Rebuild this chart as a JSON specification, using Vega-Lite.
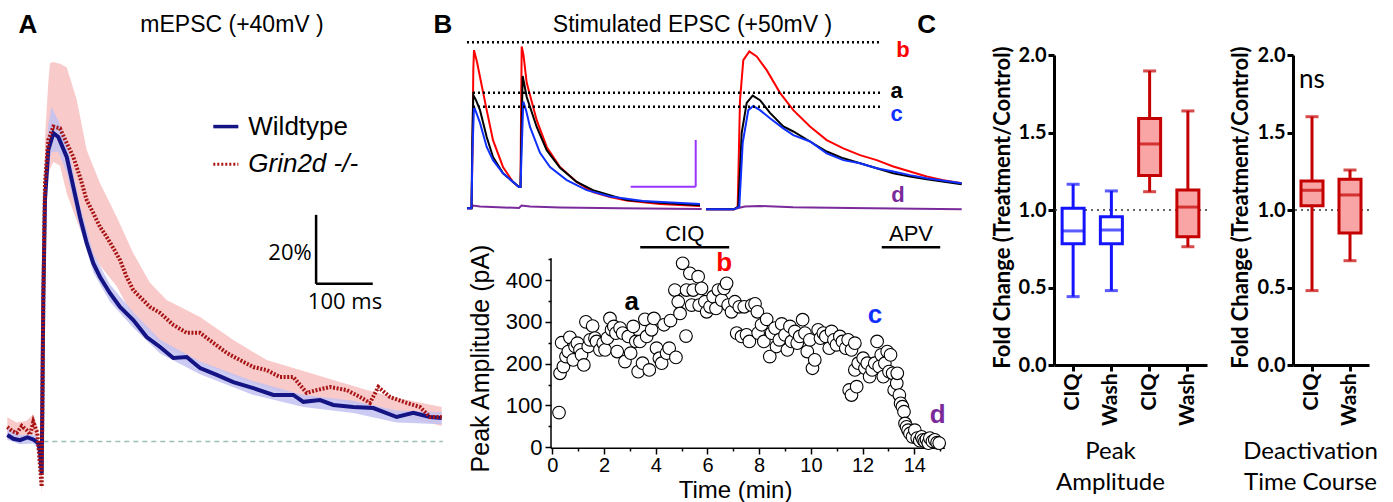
{
"$schema":"https://vega.github.io/schema/vega-lite/v6.json",
"autosize":"none",
"padding":{"left":5,"top":55,"right":1388,"bottom":447},
"background":"white",
"bounds":"flush",
"spacing":86,
"resolve":{"scale":{"color":"independent","fill":"independent","stroke":"independent"}},
"config":{"view":{"stroke":null}},
"datasets":{
"wt":[{"t":-55.9,"v":1.9},{"t":-45,"v":0.8},{"t":-33.2,"v":0.4},{"t":-20,"v":1.2},{"t":-9.5,"v":0.6},{"t":-0.5,"v":-0.5},{"t":2.5,"v":-3},{"t":5.5,"v":-9.1},{"t":8.4,"v":41.0},{"t":11.4,"v":70.0},{"t":17.3,"v":84.5},{"t":26.3,"v":89.4},{"t":35.2,"v":88.3},{"t":50.2,"v":82.5},{"t":62.0,"v":73.8},{"t":73.9,"v":65.1},{"t":85.9,"v":57.5},{"t":97.7,"v":51.7},{"t":109.7,"v":47.7},{"t":127.5,"v":43.0},{"t":145.4,"v":39.0},{"t":169.1,"v":35.2},{"t":193.1,"v":30.3},{"t":217.0,"v":27.4},{"t":240.6,"v":24.2},{"t":264.5,"v":24.5},{"t":288.3,"v":21.3},{"t":318.1,"v":19.3},{"t":347.7,"v":17.2},{"t":383.5,"v":15.5},{"t":419.2,"v":13.5},{"t":454.9,"v":13.5},{"t":472.8,"v":11.5},{"t":502.6,"v":12.0},{"t":526.3,"v":10.6},{"t":562.0,"v":10.0},{"t":597.8,"v":9.7},{"t":639.6,"v":7.1},{"t":669.2,"v":8.3},{"t":699.0,"v":7.1},{"t":719.9,"v":6.8}],
"ko":[{"t":-55.9,"v":4.2},{"t":-47,"v":3.0},{"t":-39.1,"v":2.5},{"t":-30,"v":4.5},{"t":-21.3,"v":3.3},{"t":-15,"v":2.0},{"t":-9.5,"v":5.7},{"t":-2.3,"v":2.5},{"t":1,"v":-4},{"t":5.5,"v":-13.1},{"t":8.4,"v":41.0},{"t":11.4,"v":74.9},{"t":17.3,"v":87.4},{"t":26.3,"v":91.3},{"t":38.2,"v":90.8},{"t":50.2,"v":86.5},{"t":62.0,"v":82.5},{"t":73.9,"v":76.7},{"t":85.9,"v":70.0},{"t":97.7,"v":66.2},{"t":109.7,"v":62.2},{"t":121.6,"v":59.3},{"t":133.4,"v":56.1},{"t":145.4,"v":52.6},{"t":157.3,"v":47.7},{"t":169.1,"v":43.9},{"t":181.1,"v":41.9},{"t":198.9,"v":39.0},{"t":216.8,"v":37.3},{"t":240.6,"v":33.8},{"t":264.5,"v":31.5},{"t":288.3,"v":31.5},{"t":312.0,"v":28.6},{"t":335.9,"v":25.7},{"t":359.7,"v":23.6},{"t":383.5,"v":21.6},{"t":407.4,"v":20.7},{"t":431.1,"v":18.7},{"t":454.9,"v":18.7},{"t":478.8,"v":14.1},{"t":496.7,"v":14.9},{"t":520.4,"v":15.8},{"t":550.3,"v":14.9},{"t":574.0,"v":12.9},{"t":591.8,"v":11.2},{"t":606.7,"v":15.8},{"t":627.6,"v":12.9},{"t":657.4,"v":11.2},{"t":681.2,"v":10.0},{"t":699.0,"v":7.1},{"t":719.9,"v":7.1}],
"wtband":[{"t":-55.9,"v":0.5,"v2":3.8},{"t":-33.2,"v":-0.8,"v2":1.8},{"t":-9.5,"v":-0.6,"v2":2.0},{"t":-0.5,"v":-2,"v2":1.2},{"t":5.5,"v":-11,"v2":-7},{"t":8.4,"v":37,"v2":45},{"t":11.4,"v":65,"v2":76},{"t":17.3,"v":80,"v2":92},{"t":23.4,"v":84,"v2":97},{"t":35.2,"v":84,"v2":93},{"t":50.2,"v":78,"v2":87},{"t":62.0,"v":70,"v2":78},{"t":73.9,"v":62,"v2":68.5},{"t":97.7,"v":49,"v2":54.5},{"t":127.5,"v":40.5,"v2":45.5},{"t":169.1,"v":33,"v2":37.5},{"t":217.0,"v":25.5,"v2":29.5},{"t":288.3,"v":19.5,"v2":23.2},{"t":383.5,"v":13.5,"v2":17.5},{"t":472.8,"v":10,"v2":13.5},{"t":562.0,"v":8.3,"v2":11.8},{"t":639.6,"v":5.5,"v2":9},{"t":719.9,"v":5,"v2":8.5}],
"koband":[{"t":-55.9,"v":0.8,"v2":7.0},{"t":-39.1,"v":0.5,"v2":5.5},{"t":-21.3,"v":1.0,"v2":6.0},{"t":-9.5,"v":2.5,"v2":8.0},{"t":-2.3,"v":0.0,"v2":4.5},{"t":5.5,"v":-15,"v2":-10},{"t":8.4,"v":36,"v2":48},{"t":11.4,"v":66,"v2":88},{"t":17.3,"v":77,"v2":104},{"t":20.4,"v":79,"v2":109.7},{"t":26.3,"v":81,"v2":110},{"t":38.2,"v":80,"v2":109.5},{"t":50.2,"v":72,"v2":108.5},{"t":68.2,"v":64,"v2":99},{"t":85.9,"v":57,"v2":84.5},{"t":109.7,"v":51,"v2":74.9},{"t":139.5,"v":45,"v2":65.1},{"t":169.1,"v":36,"v2":54.6},{"t":198.9,"v":31,"v2":46.0},{"t":228.6,"v":27,"v2":41.0},{"t":288.3,"v":23,"v2":36.1},{"t":347.9,"v":19,"v2":29.4},{"t":407.4,"v":15.5,"v2":23.6},{"t":467,"v":12.5,"v2":20.7},{"t":526.5,"v":12,"v2":17.8},{"t":586.1,"v":10,"v2":14.9},{"t":645.5,"v":7.5,"v2":12.5},{"t":719.9,"v":4.5,"v2":10.0}],
"traces":[
{"s":"d","seg":"L","t":0,"v":0},{"s":"d","seg":"L","t":4.5,"v":0},{"s":"d","seg":"L","t":6,"v":6},{"s":"d","seg":"L","t":13,"v":4},{"s":"d","seg":"L","t":52,"v":0.7},{"s":"d","seg":"L","t":54.5,"v":6},{"s":"d","seg":"L","t":63,"v":4},{"s":"d","seg":"L","t":93,"v":1.8},{"s":"d","seg":"L","t":153,"v":0},{"s":"d","seg":"L","t":234.7,"v":-1.5},
{"s":"d","seg":"R","t":239,"v":-2.2},{"s":"d","seg":"R","t":267,"v":-2.2},{"s":"d","seg":"R","t":271.3,"v":0.7},{"s":"d","seg":"R","t":278,"v":4},{"s":"d","seg":"R","t":293,"v":5},{"s":"d","seg":"R","t":326,"v":2.2},{"s":"d","seg":"R","t":383,"v":0.7},{"s":"d","seg":"R","t":494.7,"v":-2.2},
{"s":"b","seg":"L","t":0,"v":0},{"s":"b","seg":"L","t":4.5,"v":0},{"s":"b","seg":"L","t":5.5,"v":128},{"s":"b","seg":"L","t":6.3,"v":304},{"s":"b","seg":"L","t":7,"v":348},{"s":"b","seg":"L","t":10,"v":322},{"s":"b","seg":"L","t":13,"v":289},{"s":"b","seg":"L","t":19.7,"v":216},{"s":"b","seg":"L","t":26,"v":150},{"s":"b","seg":"L","t":36,"v":91},{"s":"b","seg":"L","t":46,"v":58},{"s":"b","seg":"L","t":52,"v":47},{"s":"b","seg":"L","t":53.5,"v":47},{"s":"b","seg":"L","t":54,"v":194},{"s":"b","seg":"L","t":54.7,"v":356},{"s":"b","seg":"L","t":56.5,"v":337},{"s":"b","seg":"L","t":59.7,"v":276},{"s":"b","seg":"L","t":69.7,"v":194},{"s":"b","seg":"L","t":79.7,"v":135},{"s":"b","seg":"L","t":93,"v":91},{"s":"b","seg":"L","t":109.7,"v":58},{"s":"b","seg":"L","t":126,"v":36},{"s":"b","seg":"L","t":143,"v":25},{"s":"b","seg":"L","t":159.7,"v":17},{"s":"b","seg":"L","t":193,"v":9.5},{"s":"b","seg":"L","t":233,"v":5},
{"s":"b","seg":"R","t":239,"v":-2.2},{"s":"b","seg":"R","t":267,"v":-2.2},{"s":"b","seg":"R","t":270.7,"v":3.5},{"s":"b","seg":"R","t":273,"v":238},{"s":"b","seg":"R","t":276.3,"v":326},{"s":"b","seg":"R","t":282.3,"v":345},{"s":"b","seg":"R","t":289.7,"v":334},{"s":"b","seg":"R","t":299.7,"v":304},{"s":"b","seg":"R","t":313,"v":254},{"s":"b","seg":"R","t":326.3,"v":216},{"s":"b","seg":"R","t":343,"v":180},{"s":"b","seg":"R","t":359.7,"v":150},{"s":"b","seg":"R","t":376.3,"v":132},{"s":"b","seg":"R","t":393,"v":117},{"s":"b","seg":"R","t":409.7,"v":106},{"s":"b","seg":"R","t":426.3,"v":92},{"s":"b","seg":"R","t":443,"v":81},{"s":"b","seg":"R","t":459.7,"v":70},{"s":"b","seg":"R","t":476.3,"v":62},{"s":"b","seg":"R","t":494.7,"v":55},
{"s":"a","seg":"L","t":0,"v":0},{"s":"a","seg":"L","t":4.5,"v":0},{"s":"a","seg":"L","t":5.3,"v":150},{"s":"a","seg":"L","t":6.3,"v":249},{"s":"a","seg":"L","t":9,"v":238},{"s":"a","seg":"L","t":13,"v":216},{"s":"a","seg":"L","t":19.7,"v":157},{"s":"a","seg":"L","t":26,"v":113},{"s":"a","seg":"L","t":36,"v":77},{"s":"a","seg":"L","t":52,"v":47},{"s":"a","seg":"L","t":53.5,"v":47},{"s":"a","seg":"L","t":54.5,"v":172},{"s":"a","seg":"L","t":55.7,"v":291},{"s":"a","seg":"L","t":59.7,"v":245},{"s":"a","seg":"L","t":69.7,"v":179},{"s":"a","seg":"L","t":79.7,"v":128},{"s":"a","seg":"L","t":93,"v":89},{"s":"a","seg":"L","t":109.7,"v":58},{"s":"a","seg":"L","t":126,"v":40},{"s":"a","seg":"L","t":159.7,"v":18},{"s":"a","seg":"L","t":193,"v":12},{"s":"a","seg":"L","t":233,"v":7},
{"s":"a","seg":"R","t":239,"v":-2.2},{"s":"a","seg":"R","t":267,"v":-2.2},{"s":"a","seg":"R","t":271.3,"v":3.5},{"s":"a","seg":"R","t":274.7,"v":166},{"s":"a","seg":"R","t":279.7,"v":232},{"s":"a","seg":"R","t":285.7,"v":248},{"s":"a","seg":"R","t":293,"v":238},{"s":"a","seg":"R","t":303,"v":210},{"s":"a","seg":"R","t":316.3,"v":180},{"s":"a","seg":"R","t":326.3,"v":169},{"s":"a","seg":"R","t":343,"v":147},{"s":"a","seg":"R","t":359.7,"v":125},{"s":"a","seg":"R","t":376.3,"v":110},{"s":"a","seg":"R","t":393,"v":99},{"s":"a","seg":"R","t":409.7,"v":88},{"s":"a","seg":"R","t":426.3,"v":77},{"s":"a","seg":"R","t":443,"v":70},{"s":"a","seg":"R","t":459.7,"v":64},{"s":"a","seg":"R","t":494.7,"v":53},
{"s":"c","seg":"L","t":0,"v":0},{"s":"c","seg":"L","t":4.5,"v":0},{"s":"c","seg":"L","t":5.5,"v":128},{"s":"c","seg":"L","t":7,"v":224},{"s":"c","seg":"L","t":9,"v":212},{"s":"c","seg":"L","t":13,"v":188},{"s":"c","seg":"L","t":19.7,"v":135},{"s":"c","seg":"L","t":26,"v":106},{"s":"c","seg":"L","t":36,"v":77},{"s":"c","seg":"L","t":52,"v":47},{"s":"c","seg":"L","t":53.5,"v":47},{"s":"c","seg":"L","t":55,"v":150},{"s":"c","seg":"L","t":56.3,"v":235},{"s":"c","seg":"L","t":59,"v":216},{"s":"c","seg":"L","t":63,"v":179},{"s":"c","seg":"L","t":73,"v":122},{"s":"c","seg":"L","t":83,"v":91},{"s":"c","seg":"L","t":99.7,"v":62},{"s":"c","seg":"L","t":119.7,"v":40},{"s":"c","seg":"L","t":143,"v":26},{"s":"c","seg":"L","t":176,"v":16},{"s":"c","seg":"L","t":233,"v":9.5},
{"s":"c","seg":"R","t":239,"v":-2.2},{"s":"c","seg":"R","t":267,"v":-2.2},{"s":"c","seg":"R","t":272.3,"v":3.5},{"s":"c","seg":"R","t":275.7,"v":144},{"s":"c","seg":"R","t":281.3,"v":216},{"s":"c","seg":"R","t":286.3,"v":225},{"s":"c","seg":"R","t":293,"v":216},{"s":"c","seg":"R","t":303,"v":198},{"s":"c","seg":"R","t":316.3,"v":176},{"s":"c","seg":"R","t":326.3,"v":161},{"s":"c","seg":"R","t":343,"v":147},{"s":"c","seg":"R","t":359.7,"v":121},{"s":"c","seg":"R","t":376.3,"v":106},{"s":"c","seg":"R","t":393,"v":99},{"s":"c","seg":"R","t":409.7,"v":88},{"s":"c","seg":"R","t":426.3,"v":81},{"s":"c","seg":"R","t":443,"v":73},{"s":"c","seg":"R","t":459.7,"v":66},{"s":"c","seg":"R","t":494.7,"v":55}
],
"scatter":[{"t":0.26,"v":83},{"t":0.30,"v":177},{"t":0.36,"v":250},{"t":0.43,"v":193},{"t":0.53,"v":217},{"t":0.62,"v":229},{"t":0.68,"v":263},{"t":0.81,"v":209},{"t":0.88,"v":241},{"t":0.97,"v":249},{"t":1.07,"v":233},{"t":1.13,"v":221},{"t":1.22,"v":197},{"t":1.30,"v":300},{"t":1.39,"v":241},{"t":1.46,"v":257},{"t":1.56,"v":290},{"t":1.65,"v":261},{"t":1.71,"v":253},{"t":1.84,"v":233},{"t":1.97,"v":249},{"t":2.04,"v":233},{"t":2.13,"v":261},{"t":2.23,"v":308},{"t":2.29,"v":281},{"t":2.38,"v":289},{"t":2.46,"v":273},{"t":2.51,"v":229},{"t":2.62,"v":285},{"t":2.72,"v":273},{"t":2.81,"v":205},{"t":2.94,"v":265},{"t":3.03,"v":225},{"t":3.13,"v":289},{"t":3.23,"v":253},{"t":3.32,"v":181},{"t":3.39,"v":253},{"t":3.49,"v":201},{"t":3.58,"v":306},{"t":3.65,"v":265},{"t":3.75,"v":185},{"t":3.84,"v":281},{"t":3.93,"v":308},{"t":4.03,"v":237},{"t":4.14,"v":213},{"t":4.23,"v":201},{"t":4.32,"v":293},{"t":4.42,"v":225},{"t":4.52,"v":237},{"t":4.57,"v":303},{"t":4.78,"v":215},{"t":4.74,"v":376},{"t":4.87,"v":348},{"t":4.94,"v":320},{"t":5.04,"v":440},{"t":5.17,"v":266},{"t":5.19,"v":376},{"t":5.32,"v":416},{"t":5.39,"v":340},{"t":5.45,"v":376},{"t":5.64,"v":408},{"t":5.68,"v":340},{"t":5.77,"v":380},{"t":5.90,"v":348},{"t":5.97,"v":324},{"t":6.10,"v":336},{"t":6.22,"v":360},{"t":6.33,"v":332},{"t":6.42,"v":376},{"t":6.55,"v":352},{"t":6.64,"v":380},{"t":6.74,"v":392},{"t":6.80,"v":340},{"t":6.93,"v":324},{"t":7.06,"v":348},{"t":7.13,"v":273},{"t":7.23,"v":336},{"t":7.32,"v":265},{"t":7.42,"v":336},{"t":7.51,"v":269},{"t":7.62,"v":253},{"t":7.71,"v":340},{"t":7.84,"v":343},{"t":7.93,"v":324},{"t":7.96,"v":273},{"t":8.09,"v":293},{"t":8.18,"v":253},{"t":8.29,"v":306},{"t":8.41,"v":217},{"t":8.48,"v":273},{"t":8.61,"v":285},{"t":8.67,"v":241},{"t":8.78,"v":257},{"t":8.87,"v":295},{"t":9.0,"v":269},{"t":9.09,"v":233},{"t":9.19,"v":289},{"t":9.25,"v":253},{"t":9.38,"v":277},{"t":9.47,"v":249},{"t":9.57,"v":265},{"t":9.68,"v":305},{"t":9.77,"v":273},{"t":9.86,"v":229},{"t":9.96,"v":257},{"t":10.06,"v":189},{"t":10.15,"v":209},{"t":10.28,"v":281},{"t":10.37,"v":261},{"t":10.48,"v":273},{"t":10.58,"v":265},{"t":10.71,"v":237},{"t":10.80,"v":277},{"t":10.89,"v":257},{"t":10.99,"v":245},{"t":11.12,"v":265},{"t":11.22,"v":253},{"t":11.35,"v":237},{"t":11.44,"v":257},{"t":11.57,"v":233},{"t":11.70,"v":249},{"t":11.48,"v":137},{"t":11.57,"v":125},{"t":11.77,"v":145},{"t":11.70,"v":185},{"t":11.83,"v":201},{"t":12.02,"v":213},{"t":12.09,"v":189},{"t":12.18,"v":201},{"t":12.27,"v":169},{"t":12.37,"v":185},{"t":12.47,"v":201},{"t":12.56,"v":253},{"t":12.64,"v":193},{"t":12.72,"v":221},{"t":12.80,"v":169},{"t":12.86,"v":201},{"t":12.95,"v":229},{"t":13.02,"v":181},{"t":13.08,"v":221},{"t":13.16,"v":177},{"t":13.22,"v":137},{"t":13.32,"v":153},{"t":13.34,"v":177},{"t":13.42,"v":125},{"t":13.47,"v":105},{"t":13.54,"v":97},{"t":13.60,"v":85},{"t":13.64,"v":57},{"t":13.70,"v":49},{"t":13.76,"v":41},{"t":13.83,"v":33},{"t":13.93,"v":25},{"t":14.02,"v":41},{"t":14.11,"v":22},{"t":14.21,"v":16},{"t":14.28,"v":25},{"t":14.34,"v":18},{"t":14.41,"v":14},{"t":14.47,"v":19},{"t":14.54,"v":10},{"t":14.60,"v":22},{"t":14.70,"v":14},{"t":14.79,"v":18},{"t":14.88,"v":11},{"t":14.96,"v":10}],
"boxC1":[{"g":"CIQ_b","grp":"g1","lo":0.441,"q1":0.783,"med":0.865,"q3":1.011,"hi":1.166},{"g":"Wash_b","grp":"g1","lo":0.480,"q1":0.783,"med":0.871,"q3":0.957,"hi":1.123},{"g":"CIQ_r","grp":"g2","lo":1.118,"q1":1.222,"med":1.426,"q3":1.591,"hi":1.897},{"g":"Wash_r","grp":"g2","lo":0.763,"q1":0.828,"med":1.019,"q3":1.129,"hi":1.639}],
"boxC2":[{"g":"CIQ","grp":"g2","lo":0.480,"q1":1.028,"med":1.127,"q3":1.187,"hi":1.602},{"g":"Wash","grp":"g2","lo":0.673,"q1":0.852,"med":1.097,"q3":1.198,"hi":1.258}]
},
"hconcat":[
{
"width":376,"height":393,
"encoding":{
"x":{"field":"t","type":"quantitative","scale":{"domain":[-60,611.5],"nice":false,"zero":false},"axis":null},
"y":{"field":"v","type":"quantitative","scale":{"domain":[-1.88,112.05],"nice":false,"zero":false},"axis":null}
},
"layer":[
{"data":{"name":"koband"},"mark":{"type":"area","color":"#f7c4c4","opacity":0.9},"encoding":{"y2":{"field":"v2"}}},
{"data":{"name":"wtband"},"mark":{"type":"area","color":"#c2c2f2","opacity":0.85},"encoding":{"y2":{"field":"v2"}}},
{"data":{"values":[{"t":8.4,"v":0,"t2":722}]},"mark":{"type":"rule","color":"#9dbfb4","strokeDash":[5,4],"strokeWidth":1.5},"encoding":{"x2":{"field":"t2"}}},
{"data":{"name":"wt"},"mark":{"type":"line","color":"#141484","strokeWidth":4},"encoding":{}},
{"data":{"name":"ko"},"mark":{"type":"line","color":"#a81414","strokeWidth":4,"strokeDash":[2,1.6]},"encoding":{}},
{"data":{"values":[{"t":312,"v":91.3,"t2":356.7}]},"mark":{"type":"rule","color":"#141484","strokeWidth":3.5},"encoding":{"x2":{"field":"t2"}}},
{"data":{"values":[{"t":312,"v":80.4,"t2":356.7}]},"mark":{"type":"rule","color":"#a81414","strokeWidth":3,"strokeDash":[2,2]},"encoding":{"x2":{"field":"t2"}}},
{"data":{"values":[{"t":495.6,"v":65.7,"t2":495.6,"v2":45.7},{"t":495.6,"v":45.7,"t2":596.8,"v2":45.7}]},"mark":{"type":"rule","color":"black","strokeWidth":2.5},"encoding":{"x2":{"field":"t2"},"y2":{"field":"v2"}}},
{"data":{"values":[{"t":-18.9,"v":120.7,"label":"A"}]},"mark":{"type":"text","font":"Liberation Sans","fontWeight":"bold","fontSize":26,"align":"center","baseline":"middle","color":"black"},"encoding":{"text":{"field":"label"}}},
{"data":{"values":[{"t":345.4,"v":120.7,"label":"mEPSC (+40mV )"}]},"mark":{"type":"text","font":"Liberation Sans","fontSize":23,"align":"center","baseline":"middle","color":"black"},"encoding":{"text":{"field":"label"}}},
{"data":{"values":[{"t":374.5,"v":91.2,"label":"Wildtype"}]},"mark":{"type":"text","font":"Liberation Sans","fontSize":26,"align":"left","baseline":"middle","color":"black"},"encoding":{"text":{"field":"label"}}},
{"data":{"values":[{"t":374.5,"v":80.4,"label":"Grin2d -/-"}]},"mark":{"type":"text","font":"Liberation Sans","fontSize":26,"fontStyle":"italic","align":"left","baseline":"middle","color":"black"},"encoding":{"text":{"field":"label"}}},
{"data":{"values":[{"t":487.7,"v":54.6,"label":"20%"}]},"mark":{"type":"text","font":"Open Sans","fontSize":22,"align":"right","baseline":"middle","color":"black"},"encoding":{"text":{"field":"label"}}},
{"data":{"values":[{"t":547.2,"v":40.5,"label":"100 ms"}]},"mark":{"type":"text","font":"Open Sans","fontSize":22,"align":"center","baseline":"middle","color":"black"},"encoding":{"text":{"field":"label"}}}
]
},
{
"width":501,"height":393,
"resolve":{"scale":{"x":"independent","y":"independent"}},
"layer":[
{
"encoding":{
"x":{"field":"t","type":"quantitative","scale":{"domain":[-3.2985,16.075],"nice":false,"zero":false},
"axis":{"orient":"bottom","values":[0,1,2,3,4,5,6,7,8,9,10,11,12,13,14,15],"labelExpr":"datum.value % 2 === 0 ? datum.label : ''","domain":false,"grid":false,"tickColor":"black","tickWidth":1.5,"tickSize":{"condition":{"test":"datum.value % 2 === 0","value":6},"value":3},"labelFont":"Liberation Sans","labelFontSize":20,"labelColor":"black","labelPadding":1,"labelFlush":false,"labelOverlap":false,"title":"Time (min)","titleFont":"Liberation Sans","titleFontSize":24,"titleFontWeight":"normal","titleColor":"black","titleX":268,"titleY":49,"titleAlign":"center","titleBaseline":"alphabetic"}},
"y":{"field":"v","type":"quantitative","scale":{"domain":[-1.67,937.96],"nice":false,"zero":false},
"axis":{"orient":"left","offset":-84,"values":[0,50,100,150,200,250,300,350,400,450],"labelExpr":"datum.value % 100 === 0 ? datum.label : ''","domain":false,"grid":false,"tickColor":"black","tickWidth":1.5,"tickSize":{"condition":{"test":"datum.value % 100 === 0","value":6},"value":3},"labelFont":"Liberation Sans","labelFontSize":22,"labelColor":"black","labelPadding":3,"labelOverlap":false,"title":"Peak Amplitude (pA)","titleFont":"Liberation Sans","titleFontSize":25,"titleFontWeight":"normal","titleColor":"black","titleX":-71,"titleY":303,"titleAngle":270,"titleAlign":"center","titleBaseline":"middle"}}
},
"layer":[
{"data":{"values":[{"t":-0.05,"v":-2.4,"t2":-0.05,"v2":452},{"t":-0.05,"v":-2.4,"t2":15.18,"v2":-2.4}]},"mark":{"type":"rule","color":"black","strokeWidth":1.5},"encoding":{"x2":{"field":"t2"},"y2":{"field":"v2"}}},
{"data":{"name":"scatter"},"mark":{"type":"point","shape":"circle","filled":true,"fill":"white","stroke":"black","strokeWidth":1.1,"size":160,"opacity":1},"encoding":{}},
{"data":{"values":[{"t":3.4,"v":478.2,"t2":6.84},{"t":12.74,"v":478.2,"t2":15.0}]},"mark":{"type":"rule","color":"black","strokeWidth":2.5},"encoding":{"x2":{"field":"t2"}}},
{"data":{"values":[{"t":5.12,"v":493.3,"label":"CIQ"},{"t":13.87,"v":493.3,"label":"APV"}]},"mark":{"type":"text","font":"Liberation Sans","fontSize":22,"align":"center","baseline":"alphabetic","color":"black"},"encoding":{"text":{"field":"label"}}},
{"data":{"values":[{"t":3.07,"v":348,"label":"a"},{"t":6.65,"v":440,"label":"b"},{"t":12.48,"v":317,"label":"c"},{"t":14.9,"v":77,"label":"d"}]},"mark":{"type":"text","font":"Liberation Sans","fontWeight":"bold","fontSize":26,"align":"center","baseline":"middle"},"encoding":{"text":{"field":"label"},"color":{"field":"label","type":"nominal","scale":{"domain":["a","b","c","d"],"range":["#000000","#ff0000","#1030ff","#7a2a9a"]},"legend":null}}}
]
},
{
"encoding":{
"x":{"field":"t","type":"quantitative","scale":{"domain":[0,501],"nice":false,"zero":false},"axis":null},
"y":{"field":"v","type":"quantitative","scale":{"domain":[-527.3,337.3],"nice":false,"zero":false},"axis":null}
},
"layer":[
{"data":{"name":"traces"},"mark":{"type":"line","strokeWidth":2},"encoding":{"color":{"field":"s","type":"nominal","scale":{"domain":["a","b","c","d"],"range":["#000000","#ff0000","#1030ff","#7a2a9a"]},"legend":null},"detail":{"field":"seg","type":"nominal"}}},
{"data":{"values":[{"t":0,"v":365.2,"t2":413},{"t":6,"v":254,"t2":413},{"t":6,"v":223.5,"t2":413}]},"mark":{"type":"rule","color":"black","strokeWidth":2.5,"strokeDash":[2,3]},"encoding":{"x2":{"field":"t2"}}},
{"data":{"values":[{"t":228.7,"v":47.5,"t2":228.7,"v2":150.3},{"t":163.7,"v":47.5,"t2":228.7,"v2":47.5}]},"mark":{"type":"rule","color":"#9933ff","strokeWidth":2},"encoding":{"x2":{"field":"t2"},"y2":{"field":"v2"}}},
{"data":{"values":[{"t":436,"v":348.3,"label":"b"},{"t":429.7,"v":259,"label":"a"},{"t":429.7,"v":207,"label":"c"},{"t":431,"v":29.3,"label":"d"}]},"mark":{"type":"text","font":"Liberation Sans","fontWeight":"bold","fontSize":22,"align":"center","baseline":"middle"},"encoding":{"text":{"field":"label"},"color":{"field":"label","type":"nominal","scale":{"domain":["a","b","c","d"],"range":["#000000","#ff0000","#1030ff","#7a2a9a"]},"legend":null}}},
{"data":{"values":[{"t":225.5,"v":403.3,"label":"Stimulated EPSC (+50mV )"}]},"mark":{"type":"text","font":"Liberation Sans","fontSize":23,"align":"center","baseline":"middle","color":"black"},"encoding":{"text":{"field":"label"}}},
{"data":{"values":[{"t":-24,"v":403.3,"label":"B"},{"t":459.7,"v":403.3,"label":"C"}]},"mark":{"type":"text","font":"Liberation Sans","fontWeight":"bold","fontSize":26,"align":"center","baseline":"middle","color":"black"},"encoding":{"text":{"field":"label"}}}
]
}
]
},
{
"width":153,"height":310,
"data":{"name":"boxC1"},
"layer":[
{"data":{"values":[{"r":1}]},"mark":{"type":"rule","strokeDash":[2,4],"color":"#333333","strokeWidth":1.5},"encoding":{"y":{"datum":1,"type":"quantitative","scale":{"domain":[0,2],"nice":false}}}},
{"mark":{"type":"rule","strokeWidth":3},"encoding":{
"x":{"field":"g","type":"nominal","scale":{"domain":["CIQ_b","Wash_b","CIQ_r","Wash_r"],"paddingInner":0.346,"paddingOuter":0.173},
"axis":{"title":["Peak","Amplitude"],"labelExpr":"split(datum.value,'_')[0]","labelAngle":270,"labelFont":"Lato","labelFontWeight":"bold","labelFontSize":21,"labelColor":"black","labelPadding":2,"tickColor":"black","tickWidth":3,"tickSize":6,"domainColor":"black","domainWidth":3,"titleFont":"Lato","titleFontWeight":"normal","titleFontSize":24,"titleColor":"black","titleX":56,"titleY":93,"titleAlign":"center","titleBaseline":"alphabetic","titleLineHeight":31}},
"y":{"field":"lo","type":"quantitative","scale":{"domain":[0,2],"nice":false},
"axis":{"values":[0,0.5,1,1.5,2],"format":".1f","grid":false,"domainColor":"black","domainWidth":3,"tickColor":"black","tickWidth":3,"tickSize":6,"labelFont":"Lato","labelFontWeight":"bold","labelFontSize":20,"labelColor":"black","labelPadding":2,"title":"Fold Change (Treatment/Control)","titleFont":"Lato","titleFontWeight":"bold","titleFontSize":22,"titleColor":"black","titleX":-52,"titleY":152,"titleAngle":270,"titleAlign":"center","titleBaseline":"middle"}},
"y2":{"field":"hi"},
"color":{"field":"grp","type":"nominal","scale":{"domain":["g1","g2"],"range":["#1414ff","#c40000"]},"legend":null}}},
{"mark":{"type":"bar","width":22,"strokeWidth":3},"encoding":{"x":{"field":"g","type":"nominal"},"y":{"field":"q1","type":"quantitative"},"y2":{"field":"q3"},"fill":{"field":"grp","type":"nominal","scale":{"domain":["g1","g2"],"range":["#ffffff","#f9a5a5"]},"legend":null},"stroke":{"field":"grp","type":"nominal","scale":{"domain":["g1","g2"],"range":["#1414ff","#c40000"]},"legend":null}}},
{"mark":{"type":"tick","orient":"horizontal","size":22,"thickness":3},"encoding":{"x":{"field":"g","type":"nominal"},"y":{"field":"med","type":"quantitative"},"color":{"field":"grp","type":"nominal","scale":{"domain":["g1","g2"],"range":["#1414ff","#c40000"]},"legend":null}}},
{"mark":{"type":"tick","orient":"horizontal","size":13,"thickness":3},"encoding":{"x":{"field":"g","type":"nominal"},"y":{"field":"lo","type":"quantitative"},"color":{"field":"grp","type":"nominal","scale":{"domain":["g1","g2"],"range":["#1414ff","#c40000"]},"legend":null}}},
{"mark":{"type":"tick","orient":"horizontal","size":13,"thickness":3},"encoding":{"x":{"field":"g","type":"nominal"},"y":{"field":"hi","type":"quantitative"},"color":{"field":"grp","type":"nominal","scale":{"domain":["g1","g2"],"range":["#1414ff","#c40000"]},"legend":null}}}
]
},
{
"width":76,"height":310,
"data":{"name":"boxC2"},
"layer":[
{"data":{"values":[{"r":1}]},"mark":{"type":"rule","strokeDash":[2,4],"color":"#333333","strokeWidth":1.5},"encoding":{"y":{"datum":1,"type":"quantitative","scale":{"domain":[0,2],"nice":false}}}},
{"mark":{"type":"rule","strokeWidth":3},"encoding":{
"x":{"field":"g","type":"nominal","scale":{"domain":["CIQ","Wash"],"paddingInner":0.346,"paddingOuter":0.173},
"axis":{"title":["Deactivation","Time Course"],"labelAngle":270,"labelFont":"Lato","labelFontWeight":"bold","labelFontSize":21,"labelColor":"black","labelPadding":2,"tickColor":"black","tickWidth":3,"tickSize":6,"domainColor":"black","domainWidth":3,"titleFont":"Lato","titleFontWeight":"normal","titleFontSize":24,"titleColor":"black","titleX":17,"titleY":93,"titleAlign":"center","titleBaseline":"alphabetic","titleLineHeight":31}},
"y":{"field":"lo","type":"quantitative","scale":{"domain":[0,2],"nice":false},
"axis":{"values":[0,0.5,1,1.5,2],"format":".1f","grid":false,"domainColor":"black","domainWidth":3,"tickColor":"black","tickWidth":3,"tickSize":6,"labelFont":"Lato","labelFontWeight":"bold","labelFontSize":20,"labelColor":"black","labelPadding":2,"title":"Fold Change (Treatment/Control)","titleFont":"Lato","titleFontWeight":"bold","titleFontSize":22,"titleColor":"black","titleX":-53,"titleY":152,"titleAngle":270,"titleAlign":"center","titleBaseline":"middle"}},
"y2":{"field":"hi"},
"color":{"field":"grp","type":"nominal","scale":{"domain":["g1","g2"],"range":["#1414ff","#c40000"]},"legend":null}}},
{"mark":{"type":"bar","width":22,"strokeWidth":3},"encoding":{"x":{"field":"g","type":"nominal"},"y":{"field":"q1","type":"quantitative"},"y2":{"field":"q3"},"fill":{"field":"grp","type":"nominal","scale":{"domain":["g1","g2"],"range":["#ffffff","#f9a5a5"]},"legend":null},"stroke":{"field":"grp","type":"nominal","scale":{"domain":["g1","g2"],"range":["#1414ff","#c40000"]},"legend":null}}},
{"mark":{"type":"tick","orient":"horizontal","size":22,"thickness":3},"encoding":{"x":{"field":"g","type":"nominal"},"y":{"field":"med","type":"quantitative"},"color":{"field":"grp","type":"nominal","scale":{"domain":["g1","g2"],"range":["#1414ff","#c40000"]},"legend":null}}},
{"mark":{"type":"tick","orient":"horizontal","size":13,"thickness":3},"encoding":{"x":{"field":"g","type":"nominal"},"y":{"field":"lo","type":"quantitative"},"color":{"field":"grp","type":"nominal","scale":{"domain":["g1","g2"],"range":["#1414ff","#c40000"]},"legend":null}}},
{"mark":{"type":"tick","orient":"horizontal","size":13,"thickness":3},"encoding":{"x":{"field":"g","type":"nominal"},"y":{"field":"hi","type":"quantitative"},"color":{"field":"grp","type":"nominal","scale":{"domain":["g1","g2"],"range":["#1414ff","#c40000"]},"legend":null}}},
{"data":{"values":[{"g":"CIQ","y":1.84,"label":"ns"}]},"mark":{"type":"text","font":"Lato","fontSize":26,"align":"center","baseline":"middle","color":"black"},"encoding":{"x":{"field":"g","type":"nominal"},"y":{"field":"y","type":"quantitative"},"text":{"field":"label"}}}
]
}
]
}
